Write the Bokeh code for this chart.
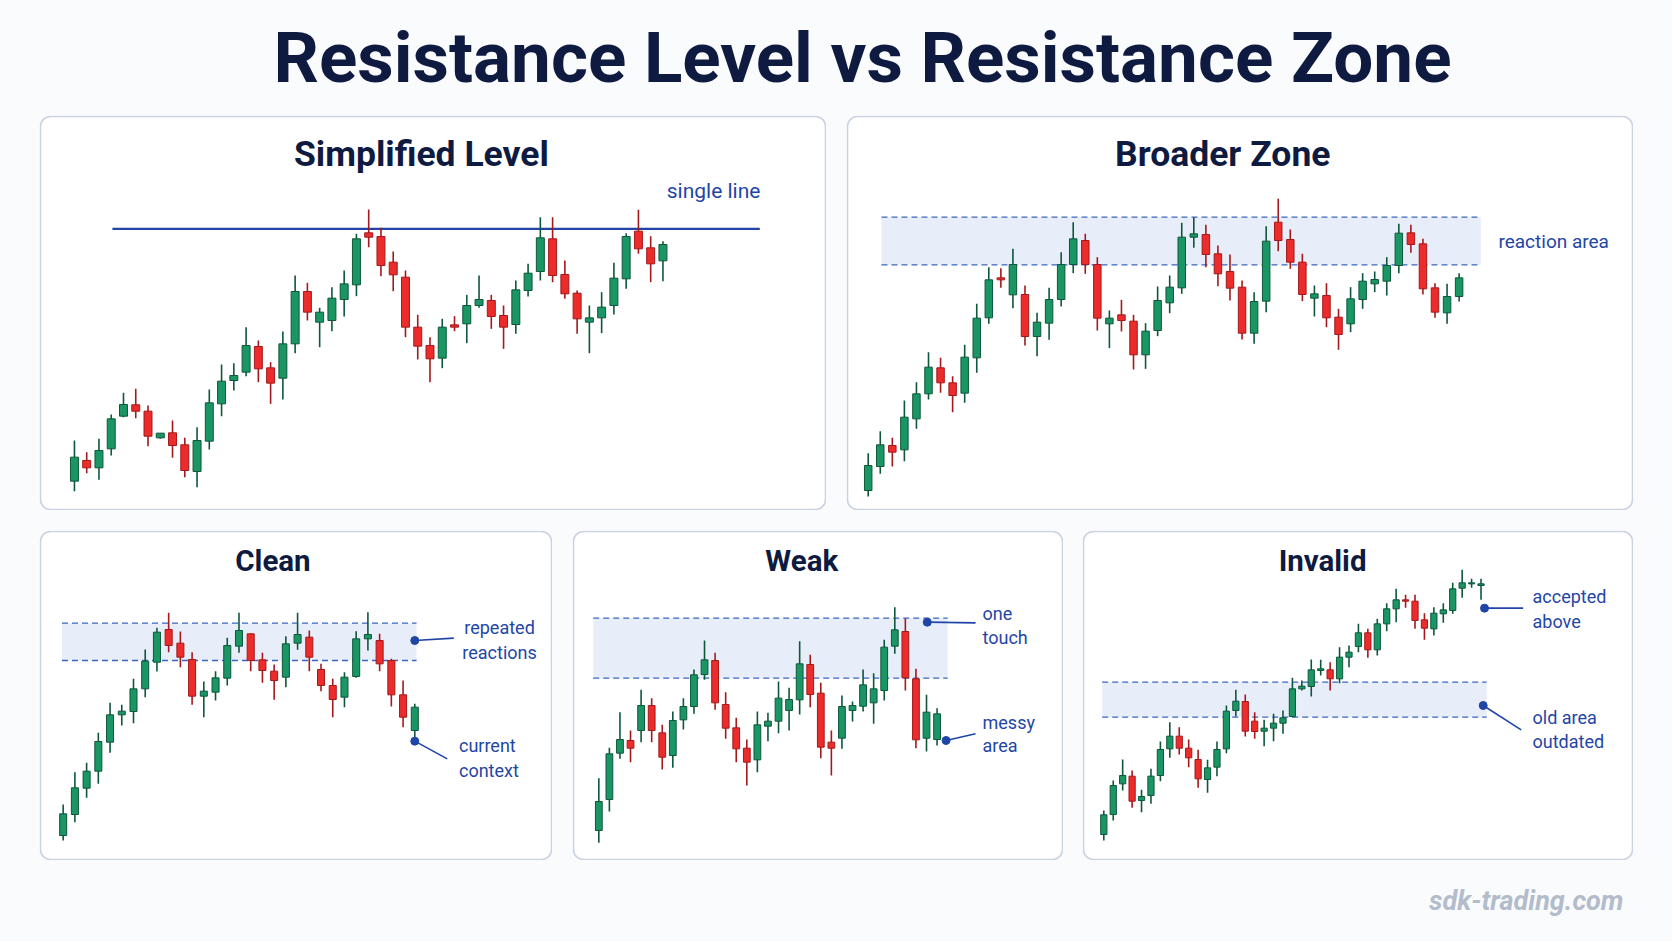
import numpy as np
from bokeh.plotting import figure
from bokeh.models import ColumnDataSource, BoxAnnotation, Range1d, Spacer
from bokeh.layouts import column, row
from bokeh.embed import file_html
from bokeh.resources import INLINE
from bokeh.core.properties import value

# ---------------- data ----------------
TITLE = "Resistance Level vs Resistance Zone"
WATERMARK = "sdk-trading.com"

# Panel 1: Simplified Level
p1_open = [12.8,19.0,16.8,22.5,32.3,35.7,33.8,25.8,27.3,23.7,15.7,24.8,36.0,43.0,45.5,53.2,46.8,43.7,54.0,69.7,60.5,61.0,67.3,71.7,87.3,86.2,78.5,74.0,59.0,53.5,49.7,59.7,60.0,65.5,67.0,62.5,59.8,70.0,75.7,85.5,74.8,69.2,60.5,61.8,65.5,73.5,87.8,82.8,78.9]
p1_high = [25.0,21.5,25.5,32.8,39.3,40.5,35.5,27.2,31.0,25.8,29.0,40.3,47.8,48.2,59.0,55.0,48.5,57.7,74.5,72.3,64.8,71.0,76.0,87.0,94.3,88.8,81.7,76.0,62.7,56.0,61.5,62.3,68.7,74.5,68.7,65.5,73.0,78.0,92.0,92.0,79.0,70.0,65.5,69.5,78.3,87.2,94.2,86.3,84.8]
p1_low = [9.8,15.2,13.2,20.5,32.0,31.7,23.3,25.5,19.8,14.0,11.0,22.3,32.3,40.0,44.3,42.5,36.0,37.3,51.2,61.0,53.0,57.8,62.2,68.3,83.0,74.3,69.8,56.0,49.3,42.5,46.7,57.8,54.2,64.8,58.5,52.5,57.0,68.2,73.0,72.5,67.5,57.0,51.2,57.2,62.8,70.5,81.0,72.5,72.8]
p1_close = [20.0,16.8,22.0,31.5,35.8,33.8,26.3,27.2,23.5,16.0,25.0,36.3,42.8,44.5,53.5,46.5,42.2,54.0,69.7,63.5,63.5,67.7,72.0,85.5,86.0,77.5,74.7,59.0,53.3,49.5,59.0,59.0,65.5,67.3,62.2,59.0,70.2,75.2,85.8,74.5,69.0,61.5,61.8,65.0,73.7,86.2,82.5,78.0,83.8]
p1_level = 88.5
p1_level_x = [3.1, 55.9]

# Panel 2: Broader Zone
p2_open = [10.0,17.2,23.5,22.2,31.5,39.0,46.8,42.3,39.2,49.8,61.8,73.8,68.7,68.8,56.2,60.2,67.3,77.8,85.0,77.8,60.0,62.7,60.8,50.7,58.0,66.3,70.8,86.0,86.8,81.0,75.7,71.0,57.2,66.8,90.5,85.3,78.5,67.7,68.5,62.0,60.0,67.3,72.0,72.8,77.5,87.3,84.0,70.8,63.3,68.2]
p2_high = [21.2,27.8,25.8,37.0,42.5,51.5,49.8,44.3,53.7,66.0,77.0,76.7,82.5,71.5,63.3,70.8,81.5,90.5,87.0,80.0,64.0,67.2,62.7,60.2,71.2,74.5,90.3,92.0,89.7,83.5,80.8,73.0,69.5,89.3,97.5,88.3,81.0,71.5,72.2,64.5,71.0,75.2,75.7,80.0,90.0,89.7,85.5,72.2,72.0,75.2]
p2_low = [8.2,15.0,17.2,18.8,28.5,37.3,39.3,33.5,36.3,45.3,60.0,70.8,64.7,53.5,50.3,55.2,65.2,75.2,75.0,58.0,52.7,57.7,46.3,46.5,56.3,63.2,69.0,82.8,77.0,71.3,67.0,55.3,54.0,63.5,81.8,76.5,66.8,62.2,59.0,52.2,57.5,64.5,69.5,68.5,75.2,81.3,68.8,61.8,60.0,66.7]
p2_close = [17.5,23.7,21.5,32.0,39.0,47.0,42.3,38.5,50.0,61.7,73.2,73.2,77.8,56.2,60.5,67.3,77.8,85.5,77.8,61.7,61.7,61.0,50.7,57.8,67.0,71.0,86.0,87.0,80.8,75.0,70.7,57.2,66.7,84.8,85.0,78.5,68.8,69.0,61.8,56.8,67.5,72.8,73.3,77.5,87.2,83.8,70.5,63.5,68.2,73.8]
p2_zone = [77.7, 92.0]
p2_zone_x = [1.1, 50.8]

# Panel 3: Clean
p3_open = [29.5,35.8,43.7,48.8,57.5,65.7,66.7,73.5,81.5,91.3,87.2,82.3,71.3,72.5,76.7,86.3,90.0,82.2,78.8,77.0,87.2,89.0,79.3,74.5,71.0,77.2,88.5,88.0,82.0,71.7,61.0]
p3_high = [38.8,48.5,51.3,60.3,69.3,68.7,76.5,85.3,91.8,96.3,90.7,84.5,75.7,78.8,88.8,96.3,90.2,84.3,80.8,89.3,96.3,91.0,81.0,76.5,78.5,90.8,96.5,90.0,82.5,76.0,69.0]
p3_low = [28.0,33.5,40.8,45.0,54.3,62.5,63.2,71.0,78.7,84.5,80.0,68.7,65.0,70.0,74.5,84.3,78.8,75.3,70.2,74.0,85.2,78.8,72.8,65.0,68.0,76.8,85.0,78.8,68.2,62.0,59.0]
p3_close = [36.0,43.8,48.8,57.7,65.7,66.8,73.5,81.8,90.5,86.5,83.0,71.3,72.8,76.8,86.5,91.0,82.0,79.0,76.0,87.0,89.8,83.0,74.5,70.3,77.0,88.5,89.8,81.0,71.7,65.0,68.0]
p3_zone = [82.0, 93.2]
p3_zone_x = [-0.1, 30.15]

# Panel 4: Weak
p4_open = [29.5,38.8,52.7,56.5,59.5,67.0,58.8,52.0,62.7,66.7,76.3,80.5,67.3,60.3,54.2,50.7,60.8,62.3,65.5,68.7,79.3,70.7,56.0,57.2,65.5,66.8,67.8,71.5,84.8,89.2,75.0,57.2,56.8]
p4_high = [45.2,54.3,65.0,59.5,71.7,69.2,61.2,65.2,69.2,77.8,86.5,82.8,71.0,63.3,56.8,65.2,64.8,74.2,72.3,86.3,82.2,73.8,59.5,70.0,68.2,77.8,76.7,86.7,96.5,93.2,78.0,70.2,66.2]
p4_low = [25.8,35.2,51.0,50.0,56.0,56.0,47.8,48.3,59.8,64.5,74.7,65.7,57.0,50.0,43.0,47.0,56.3,58.7,59.5,64.3,66.5,51.2,46.0,54.0,62.2,65.2,61.5,68.5,82.5,71.5,54.2,53.2,55.0]
p4_close = [38.2,52.5,56.8,54.2,67.0,59.5,51.5,62.5,66.7,76.2,80.7,67.8,60.2,54.0,50.0,61.2,62.3,69.2,68.8,79.5,70.3,54.5,54.2,66.7,67.0,73.2,72.0,84.5,89.7,75.3,56.7,65.0,64.5]
p4_zone = [75.2, 93.2]
p4_zone_x = [-0.53, 33.0]

# Panel 5: Invalid
p5_open = [17.8,23.8,33.0,35.3,28.0,29.5,35.5,43.5,47.3,43.7,40.3,34.3,38.0,43.5,55.0,57.7,51.8,48.8,49.7,51.2,53.2,61.5,62.2,67.0,67.2,64.5,71.0,74.2,78.3,73.2,81.0,85.5,88.2,87.8,82.2,79.5,84.0,85.0,91.7,93.0,92.5]
p5_high = [25.0,34.0,40.3,37.0,31.2,37.5,45.7,51.5,50.0,46.3,43.2,40.2,45.7,56.5,61.2,59.8,54.5,52.2,54.0,55.0,64.8,64.0,70.3,70.2,69.5,74.0,74.5,81.0,79.5,82.5,87.2,91.5,89.7,89.7,84.2,86.0,87.2,93.3,97.2,94.5,94.5]
p5_low = [16.0,22.0,31.0,25.8,24.5,27.0,33.8,40.8,41.8,38.0,31.8,30.3,35.3,42.2,53.2,47.2,46.5,44.3,45.8,48.0,53.0,61.0,59.2,65.5,61.0,63.2,68.0,72.5,70.8,71.5,78.8,81.5,85.8,79.5,76.2,77.5,81.3,84.0,88.8,91.8,88.2]
p5_close = [23.7,32.5,35.5,27.8,29.2,35.3,43.3,47.3,43.7,40.8,34.5,37.8,43.3,54.8,57.8,48.8,48.7,49.7,51.2,52.8,61.5,62.3,67.2,67.5,64.5,71.0,72.5,78.3,73.2,81.0,85.5,88.2,87.8,82.0,79.7,84.2,85.2,91.5,93.3,93.3,93.0]
p5_zone = [53.0, 63.5]
p5_zone_x = [-0.17, 40.6]

# ---------------- style ----------------
PAGE_BG = "#fafbfd"
PANEL_BG = "#ffffff"
BORDER = "#c9d3e2"
NAVY = "#0f1a40"
ACCENT = "#1f46a6"
ZONE_FILL = "#e3ebf8"
ZONE_LINE = "#3b66c4"
G_FILL, G_LINE = "#1a9665", "#0e573b"
R_FILL, R_LINE = "#ec2b2b", "#a3191c"
HEAD = "Roboto"
SANS = "Roboto"


def candles(p, o, h, l, c, width):
    o = np.array(o); h = np.array(h); l = np.array(l); c = np.array(c)
    up = c >= o
    src = ColumnDataSource(dict(
        x=np.arange(len(o)), top=np.maximum(o, c), bottom=np.minimum(o, c),
        high=h, low=l,
        fill=np.where(up, G_FILL, R_FILL), line=np.where(up, G_LINE, R_LINE)))
    p.segment(x0="x", y0="low", x1="x", y1="high", line_color="line", line_width=1.6, source=src)
    p.vbar(x="x", width=width, top="top", bottom="bottom", fill_color="fill",
           line_color="line", line_width=1, source=src)


def panel(w, h, xr, yr, title, title_xy, title_size):
    p = figure(width=w, height=h, x_range=Range1d(*xr), y_range=Range1d(*yr),
               output_backend="svg", toolbar_location=None, min_border=0,
               x_axis_location=None, y_axis_location=None,
               background_fill_color=PAGE_BG, border_fill_color=PAGE_BG,
               outline_line_color=None)
    p.grid.visible = False
    dx = (xr[1] - xr[0]) / w
    dy = (yr[1] - yr[0]) / h
    p.add_layout(BoxAnnotation(left=xr[0] + dx, right=xr[1] - dx,
                               bottom=yr[0] + dy, top=yr[1] - dy,
                               fill_color=PANEL_BG, fill_alpha=1.0,
                               line_color=BORDER, line_width=1.6, line_alpha=1.0,
                               border_radius=10, level="underlay"))
    p.text(x=[title_xy[0]], y=[title_xy[1]], text=[title], text_font=value(HEAD),
           text_font_style="bold", text_font_size=title_size, text_color=NAVY,
           text_align="center", text_baseline="alphabetic")
    return p


def zone(p, z, zx):
    p.quad(left=[zx[0]], right=[zx[1]], bottom=[z[0]], top=[z[1]],
           fill_color=ZONE_FILL, fill_alpha=0.85, line_color=None)
    p.segment(x0=[zx[0], zx[0]], x1=[zx[1], zx[1]], y0=z, y1=z,
              line_color=ZONE_LINE, line_width=1.4, line_dash="6 4")


def note(p, lines, xs, ys, size, align="left"):
    p.text(x=xs, y=ys, text=lines, text_font=value(SANS), text_font_size=size,
           text_color=ACCENT, text_align=align, text_baseline="middle")


def pointer(p, x0, y0, x1, y1):
    p.segment(x0=[x0], y0=[y0], x1=[x1], y1=[y1], line_color=ACCENT, line_width=1.6)
    p.scatter(x=[x0], y=[y0], size=8, color=ACCENT)


# ---- panel 1
p1 = panel(787, 395, (-2.85, 61.34), (4.0, 122.5), "Simplified Level", (28.3, 111.0), "35.5px")
p1.segment(x0=[p1_level_x[0]], x1=[p1_level_x[1]], y0=[p1_level], y1=[p1_level],
           line_color="#2144a6", line_width=2.2)
candles(p1, p1_open, p1_high, p1_low, p1_close, 0.65)
p1.text(x=[55.95], y=[99.8], text=["single line"], text_font=value(SANS),
        text_font_size="21px", text_color=ACCENT, text_align="right", text_baseline="alphabetic")

# ---- panel 2
p2 = panel(787, 395, (-1.80, 63.46), (4.0, 122.5), "Broader Zone", (29.4, 111.0), "35.5px")
zone(p2, p2_zone, p2_zone_x)
candles(p2, p2_open, p2_high, p2_low, p2_close, 0.62)
p2.text(x=[52.26], y=[84.6], text=["reaction area"], text_font=value(SANS),
        text_font_size="19px", text_color=ACCENT, text_align="left", text_baseline="alphabetic")

# ---- panel 3
p3 = panel(513, 330, (-2.02, 41.75), (22.0, 121.0), "Clean", (17.9, 111.8), "29.5px")
zone(p3, p3_zone, p3_zone_x)
candles(p3, p3_open, p3_high, p3_low, p3_close, 0.6)
pointer(p3, 30.0, 88.0, 33.33, 88.7)
pointer(p3, 30.0, 57.8, 32.77, 52.5)
note(p3, ["repeated", "reactions"], [37.23, 37.23], [91.9, 84.5], "18px", "center")
note(p3, ["current", "context"], [33.77, 33.77], [56.5, 49.0], "18px")

# ---- panel 4
p4 = panel(491, 330, (-2.49, 43.96), (20.5, 119.5), "Weak", (19.2, 110.3), "29.5px")
zone(p4, p4_zone, p4_zone_x)
candles(p4, p4_open, p4_high, p4_low, p4_close, 0.64)
pointer(p4, 31.07, 92.0, 35.64, 91.8)
pointer(p4, 32.85, 56.5, 35.64, 58.5)
note(p4, ["one", "touch"], [36.3, 36.3], [94.6, 87.5], "18px")
note(p4, ["messy", "area"], [36.3, 36.3], [61.9, 55.0], "18px")

# ---- panel 5
p5 = panel(551, 330, (-2.26, 56.17), (10.0, 109.0), "Invalid", (23.2, 99.8), "29.5px")
zone(p5, p5_zone, p5_zone_x)
candles(p5, p5_open, p5_high, p5_low, p5_close, 0.66)
pointer(p5, 40.37, 85.7, 44.47, 85.7)
pointer(p5, 40.23, 56.5, 44.26, 49.2)
note(p5, ["accepted", "above"], [45.46, 45.46], [89.2, 81.8], "18px")
note(p5, ["old area", "outdated"], [45.46, 45.46], [52.9, 45.7], "18px")


def strip(h):
    f = figure(width=1672, height=h, x_range=Range1d(0, 1672), y_range=Range1d(h, 0),
               output_backend="svg", toolbar_location=None, min_border=0,
               x_axis_location=None, y_axis_location=None,
               background_fill_color=PAGE_BG, border_fill_color=PAGE_BG,
               outline_line_color=None)
    f.grid.visible = False
    return f


head = strip(115)
head.text(x=[862], y=[57], text=[TITLE], text_font=value(HEAD), text_font_style="bold",
          text_font_size="71px", text_color=NAVY, text_align="center", text_baseline="alphabetic")

foot = strip(81)
foot.text(x=[1623], y=[40], text=[WATERMARK], text_font=value(SANS),
          text_font_style="bold italic", text_font_size="27px", text_color="#b3bccb",
          text_align="right", text_baseline="middle")

page = column(
    head,
    row(Spacer(width=39, height=395), p1, Spacer(width=20, height=395), p2),
    Spacer(width=1672, height=20),
    row(Spacer(width=39, height=330), p3, Spacer(width=20, height=330), p4,
        Spacer(width=19, height=330), p5),
    foot,
    styles={"background-color": PAGE_BG},
)

open("out.html", "w").write(file_html(page, INLINE))
